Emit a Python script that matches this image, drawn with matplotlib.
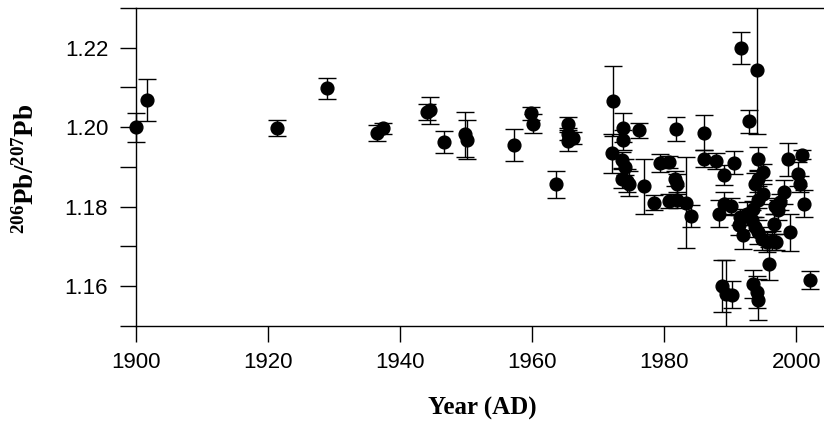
import matplotlib
matplotlib.use("Agg")
import matplotlib.pyplot as plt
from matplotlib.ticker import FixedLocator, NullFormatter
from matplotlib.transforms import Bbox, TransformedBbox

# ---- data ----
years = [1900.0, 1901.7, 1921.4, 1928.9, 1936.5, 1937.4, 1944.0, 1944.5, 1946.7,
         1949.8, 1950.2, 1957.3, 1959.8, 1960.1, 1963.6,
         1965.4, 1965.4, 1966.2, 1965.4,
         1972.3, 1972.1, 1973.8, 1973.7, 1973.6, 1974.1, 1973.6, 1974.3, 1974.6,
         1976.2, 1976.9, 1978.5, 1979.3, 1980.7, 1980.8, 1981.8, 1981.7, 1981.9,
         1982.0, 1983.3, 1984.0,
         1986.1, 1986.0, 1987.9, 1989.1, 1990.5, 1988.3, 1989.1, 1990.1,
         1988.7, 1989.4, 1990.3,
         1991.6, 1992.9, 1994.0,
         1994.2, 1995.0, 1994.2, 1993.8, 1994.9, 1994.2, 1993.5,
         1991.5, 1992.0, 1991.3, 1992.5, 1993.3, 1993.8, 1994.2, 1994.8,
         1995.6, 1995.8, 1996.3, 1997.0, 1996.6, 1997.3, 1997.6, 1998.1, 1996.8,
         1998.8, 1999.0, 2000.2, 2000.6, 2000.9, 2001.1, 2002.1,
         1993.5, 1994.0, 1994.2]

ratios = [1.2000, 1.2068, 1.1998, 1.2098, 1.1986, 1.1997, 1.2038, 1.2043, 1.1963,
          1.1982, 1.1969, 1.1956, 1.2035, 1.2009, 1.1856,
          1.2009, 1.1984, 1.1974, 1.1965,
          1.2066, 1.1934, 1.1999, 1.1967, 1.1917, 1.1900, 1.1871, 1.1866, 1.1858,
          1.1992, 1.1851, 1.1810, 1.1910, 1.1913, 1.1814, 1.1995, 1.1871, 1.1858,
          1.1816, 1.1810, 1.1776,
          1.1986, 1.1921, 1.1914, 1.1879, 1.1911, 1.1783, 1.1808, 1.1801,
          1.1600, 1.1581, 1.1579,
          1.2200, 1.2015, 1.2144,
          1.1921, 1.1887, 1.1871, 1.1856, 1.1833, 1.1816, 1.1795,
          1.1774, 1.1728, 1.1753, 1.1783, 1.1766, 1.1749, 1.1736, 1.1720,
          1.1711, 1.1657, 1.1715, 1.1711, 1.1757, 1.1791, 1.1812, 1.1837, 1.1803,
          1.1919, 1.1736, 1.1882, 1.1858, 1.1931, 1.1808, 1.1616,
          1.1606, 1.1585, 1.1566]

errors = [0.0037, 0.0053, 0.0020, 0.0026, 0.0020, 0.0013, 0.0020, 0.0034, 0.0027,
          0.0056, 0.0048, 0.0040, 0.0017, 0.0024, 0.0034,
          0.0017, 0.0015, 0.0015, 0.0024,
          0.0089, 0.0050, 0.0037, 0.0025, 0.0020, 0.0020, 0.0025, 0.0030, 0.0032,
          0.0018, 0.0070, 0.0019, 0.0022, 0.0015, 0.0018, 0.0030, 0.0020, 0.0025,
          0.0020, 0.0115, 0.0028,
          0.0044, 0.0022, 0.0020, 0.0025, 0.0029, 0.0033, 0.0030, 0.0020,
          0.0066, 0.0085, 0.0033,
          0.0040, 0.0029, 0.0160,
          0.0029, 0.0020, 0.0020, 0.0030, 0.0025, 0.0020, 0.0020,
          0.0020, 0.0034, 0.0025, 0.0030, 0.0025, 0.0025, 0.0030, 0.0030,
          0.0025, 0.0042, 0.0025, 0.0020, 0.0025, 0.0025, 0.0020, 0.0031, 0.0020,
          0.0041, 0.0047, 0.0030, 0.0020, 0.0012, 0.0035, 0.0023,
          0.0035, 0.0040, 0.0052]

x_ticks = [1900, 1920, 1940, 1960, 1980, 2000]
y_major = [1.16, 1.18, 1.20, 1.22]
y_minor = [1.15, 1.17, 1.19, 1.21, 1.23]

# ---- figure ----
plt.rcParams['mathtext.fontset'] = 'custom'
plt.rcParams['mathtext.rm'] = 'Liberation Serif'
plt.rcParams['mathtext.bf'] = 'Liberation Serif:bold'

W, H = 824, 421
fig = plt.figure(figsize=(W / 100, H / 100), dpi=100)
ax = fig.add_axes([136 / W, 95 / H, 688 / W, 318 / H])

cont = ax.errorbar(years, ratios, yerr=errors, fmt='o', color='black', ecolor='black',
                   markersize=9.2, elinewidth=1.0, capsize=6.8, capthick=1.0,
                   markeredgecolor='black', zorder=3)

ax.set_xlim(1900, 2004.2)
ax.set_ylim(1.15, 1.23)

# clip vertically at the axes but let marks at the left edge show fully
clip_box = TransformedBbox(Bbox([[-0.05, 0.0], [1.05, 1.0]]), ax.transAxes)
data_line, caplines, barcols = cont.lines
artists = [data_line] + list(caplines) + list(barcols)
for a in artists:
    a.set_clip_box(clip_box)
    a.set_clip_path(None)
    a.set_clip_on(True)
    a.set_clip_box(clip_box)

ax.xaxis.set_major_locator(FixedLocator(x_ticks))
ax.yaxis.set_major_locator(FixedLocator(y_major))
ax.yaxis.set_minor_locator(FixedLocator(y_minor))
ax.yaxis.set_minor_formatter(NullFormatter())
ax.set_yticklabels(['%.2f' % v for v in y_major])

ax.spines['right'].set_visible(False)
for s in ['left', 'top', 'bottom']:
    ax.spines[s].set_linewidth(1.0)

ax.tick_params(axis='both', which='both', direction='out', length=11.5, width=1.0,
               top=False, right=False)
ax.tick_params(axis='y', pad=8.5)
ax.tick_params(axis='x', pad=7.0)
for lab in ax.get_xticklabels() + ax.get_yticklabels():
    lab.set_fontfamily('Liberation Sans')
    lab.set_fontsize(16)

fig.text(482 / W, 1 - 408 / H, 'Year (AD)', ha='center', va='center',
         fontfamily='Liberation Serif', fontweight='bold', fontsize=18)
fig.text(26 / W, 1 - 169 / H, r'$\mathbf{^{206}Pb/^{207}Pb}$', ha='center',
         va='center', rotation=90, fontsize=19.5)

fig.savefig('out.png', dpi=100)
